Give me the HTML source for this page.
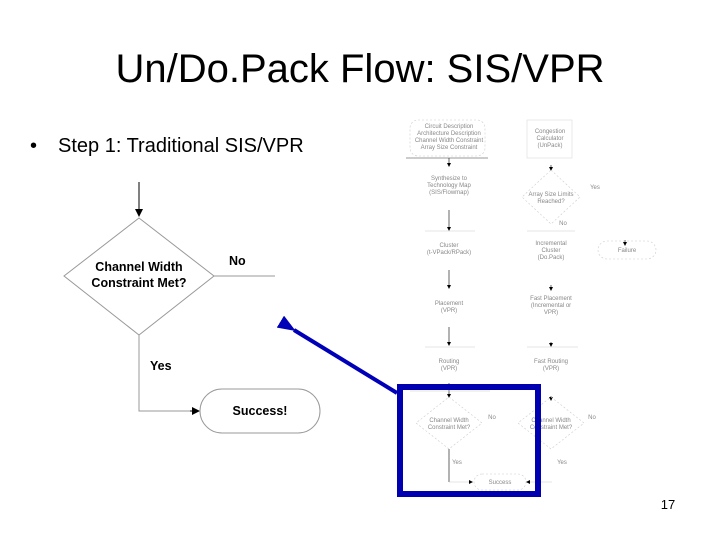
<!DOCTYPE html>
<html><head><style>
html,body{margin:0;padding:0;background:#fff;}
body{width:720px;height:540px;overflow:hidden;position:relative;font-family:"Liberation Sans",sans-serif;}
</style></head><body>
<svg width="720" height="540" viewBox="0 0 720 540" xmlns="http://www.w3.org/2000/svg" font-family="Liberation Sans, sans-serif">
<defs>
<marker id="a" markerWidth="8" markerHeight="8" refX="7" refY="4" orient="auto" markerUnits="userSpaceOnUse"><path d="M0,0 L8,4 L0,8 z" fill="#000"/></marker>
<marker id="s" markerWidth="4" markerHeight="4" refX="3" refY="2" orient="auto" markerUnits="userSpaceOnUse"><path d="M0,0 L4,2 L0,4 z" fill="#000"/></marker>
<marker id="b" markerWidth="18" markerHeight="14" refX="2" refY="7" orient="auto" markerUnits="userSpaceOnUse"><path d="M18,0 L0,7 L18,14 z" fill="#0000b8"/></marker>
</defs>
<text x="360" y="82" font-size="40" text-anchor="middle">Un/Do.Pack Flow: SIS/VPR</text>
<text x="30" y="152" font-size="20">•</text>
<text x="58" y="152" font-size="20">Step 1: Traditional SIS/VPR</text>
<line x1="139" y1="182" x2="139" y2="216" stroke="#000" stroke-width="1" marker-end="url(#a)"/>
<polygon points="139,218 214,276 139,335 64,276" fill="#fff" stroke="#999" stroke-width="1"/>
<text x="139" y="271" font-size="12.5" font-weight="bold" text-anchor="middle">Channel Width</text>
<text x="139" y="287" font-size="12.5" font-weight="bold" text-anchor="middle">Constraint Met?</text>
<line x1="214" y1="276" x2="275" y2="276" stroke="#999"/>
<text x="229" y="265" font-size="12.5" font-weight="bold">No</text>
<polyline points="139,335 139,411 198,411" fill="none" stroke="#999"/>
<line x1="190" y1="411" x2="199" y2="411" stroke="#000" marker-end="url(#a)"/>
<text x="150" y="370" font-size="12.5" font-weight="bold">Yes</text>
<rect x="200" y="389" width="120" height="44" rx="22" fill="#fff" stroke="#999"/>
<text x="260" y="415" font-size="12.5" font-weight="bold" text-anchor="middle">Success!</text>
<line x1="397" y1="393" x2="294" y2="330" stroke="#0000b8" stroke-width="4" marker-end="url(#b)"/>
<g font-size="6" fill="#888" text-anchor="middle" stroke-width="0.6">
<rect x="410" y="120" width="75" height="36" rx="8" fill="none" stroke="#ccc" stroke-dasharray="2,2"/>
<text x="449" y="128">Circuit Description</text><text x="449" y="135">Architecture Description</text><text x="449" y="142">Channel Width Constraint</text><text x="449" y="149">Array Size Constraint</text>
<line x1="406" y1="158" x2="488" y2="158" stroke="#333"/>
<line x1="449" y1="158" x2="449" y2="166" stroke="#000" marker-end="url(#s)"/>
<text x="449" y="180">Synthesize to</text><text x="449" y="187">Technology Map</text><text x="449" y="194">(SIS/Flowmap)</text>
<line x1="449" y1="210" x2="449" y2="230" stroke="#000" marker-end="url(#s)"/>
<line x1="425" y1="231" x2="475" y2="231" stroke="#ccc"/>
<text x="449" y="247">Cluster</text><text x="449" y="254">(t-VPack/RPack)</text>
<line x1="449" y1="270" x2="449" y2="288" stroke="#000" marker-end="url(#s)"/>
<text x="449" y="305">Placement</text><text x="449" y="312">(VPR)</text>
<line x1="449" y1="327" x2="449" y2="345" stroke="#000" marker-end="url(#s)"/>
<line x1="425" y1="347" x2="475" y2="347" stroke="#ccc"/>
<text x="449" y="363">Routing</text><text x="449" y="370">(VPR)</text>
<line x1="449" y1="383" x2="449" y2="397" stroke="#000" marker-end="url(#s)"/>
<line x1="410" y1="391" x2="490" y2="391" stroke="#ccc"/>
<polygon points="449,397 482,423 449,449 416,423" fill="none" stroke="#ccc" stroke-dasharray="2,2"/>
<text x="449" y="422">Channel Width</text><text x="449" y="429">Constraint Met?</text>
<text x="492" y="419">No</text>
<line x1="449" y1="449" x2="449" y2="482" stroke="#000"/>
<text x="457" y="464">Yes</text>
<line x1="449" y1="482" x2="472" y2="482" stroke="#ccc" marker-end="url(#s)"/>
<rect x="474" y="474" width="52" height="16" rx="8" fill="none" stroke="#ccc" stroke-dasharray="2,2"/>
<text x="500" y="484">Success</text>
<line x1="552" y1="482" x2="527" y2="482" stroke="#ccc" marker-end="url(#s)"/>
<rect x="527" y="120" width="45" height="38" fill="none" stroke="#ddd"/>
<text x="550" y="133">Congestion</text><text x="550" y="140">Calculator</text><text x="550" y="147">(UnPack)</text>
<line x1="551" y1="165" x2="551" y2="170" stroke="#000" marker-end="url(#s)"/>
<polygon points="551,170 580,197 551,224 522,197" fill="none" stroke="#ccc" stroke-dasharray="2,2"/>
<text x="551" y="196">Array Size Limits</text><text x="551" y="203">Reached?</text>
<text x="595" y="189">Yes</text>
<text x="563" y="225">No</text>
<line x1="527" y1="231" x2="575" y2="231" stroke="#ccc"/>
<text x="551" y="245">Incremental</text><text x="551" y="252">Cluster</text><text x="551" y="259">(Do.Pack)</text>
<line x1="551" y1="285" x2="551" y2="290" stroke="#000" marker-end="url(#s)"/>
<text x="551" y="300">Fast Placement</text><text x="551" y="307">(Incremental or</text><text x="551" y="314">VPR)</text>
<line x1="551" y1="342" x2="551" y2="346" stroke="#000" marker-end="url(#s)"/>
<line x1="527" y1="347" x2="578" y2="347" stroke="#ccc"/>
<text x="551" y="363">Fast Routing</text><text x="551" y="370">(VPR)</text>
<line x1="551" y1="396" x2="551" y2="400" stroke="#000" marker-end="url(#s)"/>
<polygon points="551,397 584,423 551,449 518,423" fill="none" stroke="#ccc" stroke-dasharray="2,2"/>
<text x="551" y="422">Channel Width</text><text x="551" y="429">Constraint Met?</text>
<text x="592" y="419">No</text>
<text x="562" y="464">Yes</text>
<line x1="625" y1="240" x2="625" y2="245" stroke="#000" marker-end="url(#s)"/>
<rect x="598" y="241" width="58" height="18" rx="9" fill="none" stroke="#ccc" stroke-dasharray="2,2"/>
<text x="627" y="252">Failure</text>
</g>
<rect x="400" y="387" width="138" height="107" fill="none" stroke="#0000b0" stroke-width="6"/>
<text x="668" y="509" font-size="13" text-anchor="middle">17</text>
</svg>
</body></html>
